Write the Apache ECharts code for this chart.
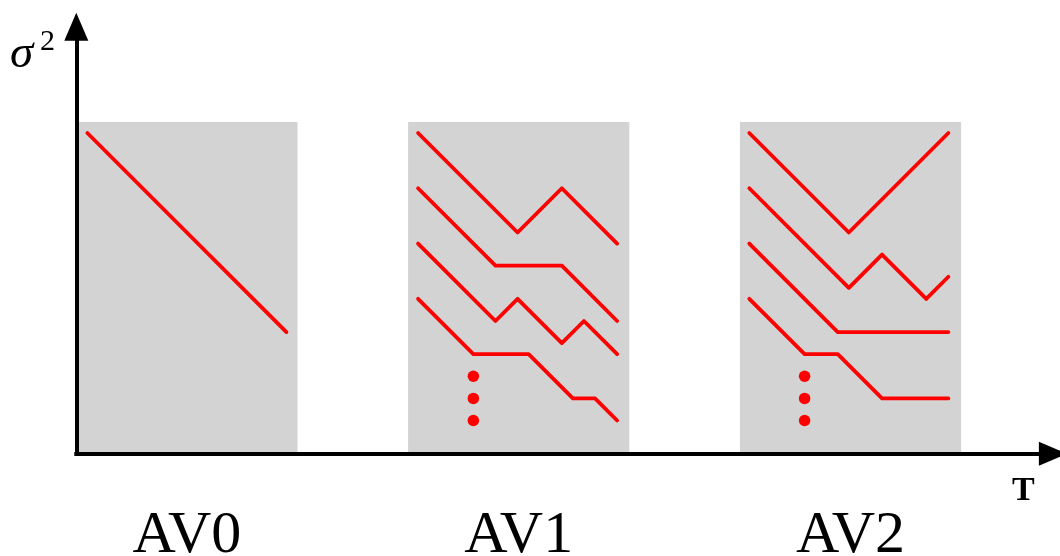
<!DOCTYPE html>
<html><head><meta charset="utf-8">
<script src="https://cdn.jsdelivr.net/npm/echarts@6/dist/echarts.min.js"></script>
<style>html,body{margin:0;padding:0;background:#fff}#c{width:1060px;height:556px}</style>
</head><body><div id="c"></div>
<script>
// ---- data (schematic units) ----
const groupLabels = ['AV0', 'AV1', 'AV2'];
const groupCenters = [10, 40, 70];
const boxRanges = [[0, 20], [30, 50], [60, 80]];
const boxTop = 30;
const av0Lines = [
  [[1, 29], [19, 11]]
];
const av1Lines = [
  [[30.9, 29], [39.9, 20], [43.9, 24], [48.9, 19]],
  [[30.9, 24], [37.9, 17], [43.9, 17], [48.9, 12]],
  [[30.9, 19], [37.9, 12], [39.9, 14], [43.9, 10], [45.9, 12], [48.9, 9]],
  [[30.9, 14], [35.9, 9], [40.9, 9], [44.9, 5], [46.9, 5], [48.9, 3]]
];
const av1Dots = [[35.9, 7], [35.9, 5], [35.9, 3]];
const av2Lines = [
  [[60.85, 29], [69.85, 20], [78.85, 29]],
  [[60.85, 24], [69.85, 15], [72.85, 18], [76.85, 14], [78.85, 16]],
  [[60.85, 19], [68.85, 11], [78.85, 11]],
  [[60.85, 14], [65.85, 9], [68.85, 9], [72.85, 5], [78.85, 5]]
];
const av2Dots = [[65.85, 7], [65.85, 5], [65.85, 3]];
const yName = 'σ';
const yNamePower = '2';
const xName = 'T';
const xMax = 88.3, yMax = 38.6;

// ---- chart ----
const chart = echarts.init(document.getElementById('c'), null, {renderer: 'canvas'});
const RED = '#ff0000';
const lineSeries = [].concat(av0Lines, av1Lines, av2Lines).map(d => ({
  type: 'line', data: d, showSymbol: false, silent: true, z: 3,
  lineStyle: {color: RED, width: 3.8, cap: 'round', join: 'round', opacity: 1},
  animation: false
}));
const option = {
  animation: false,
  backgroundColor: '#ffffff',
  grid: {left: 76.3, top: 26.8, width: 976.6, height: 426.9, containLabel: false, outerBoundsMode: 'none'},
  xAxis: {
    type: 'value', min: 0, max: xMax, interval: 10, z: 10,
    axisLine: {show: true, onZero: false, symbol: ['none', 'triangle'], symbolSize: [24, 28],
      lineStyle: {color: '#000', width: 4, cap: 'square'}},
    axisTick: {show: false}, splitLine: {show: false},
    axisLabel: {
      show: true, margin: 53, color: '#000',
      fontFamily: 'Liberation Serif', fontSize: 60,
      showMinLabel: true, showMaxLabel: true, hideOverlap: false,
      formatter: v => { const i = groupCenters.indexOf(v); return i >= 0 ? groupLabels[i] : ''; }
    }
  },
  yAxis: {
    type: 'value', min: 0, max: yMax, z: 10,
    axisLine: {show: true, onZero: false, symbol: ['none', 'triangle'], symbolSize: [24, 28],
      lineStyle: {color: '#000', width: 4, cap: 'square'}},
    axisTick: {show: false}, splitLine: {show: false}, axisLabel: {show: false}
  },
  graphic: [
    {type: 'text', x: 10, y: 31, style: {text: yName, fontFamily: 'Liberation Serif', fontStyle: 'italic', fontSize: 47, fill: '#000'}},
    {type: 'text', x: 40, y: 27, style: {text: yNamePower, fontFamily: 'Liberation Serif', fontSize: 30, fill: '#000'}},
    {type: 'text', x: 1012, y: 474, style: {text: xName, fontFamily: 'Liberation Serif', fontWeight: 'bold', fontSize: 34, fill: '#000'}}
  ],
  series: [
    {
      type: 'line', data: [], silent: true, z: 1,
      markArea: {
        silent: true,
        itemStyle: {color: '#d3d3d3', opacity: 1},
        data: boxRanges.map(r => [{xAxis: r[0], yAxis: 0}, {xAxis: r[1], yAxis: boxTop}])
      }
    },
    ...lineSeries,
    {
      type: 'scatter', data: av1Dots.concat(av2Dots), symbolSize: 11.5, silent: true, z: 4,
      itemStyle: {color: RED, opacity: 1}
    }
  ]
};
chart.setOption(option);
</script></body></html>
